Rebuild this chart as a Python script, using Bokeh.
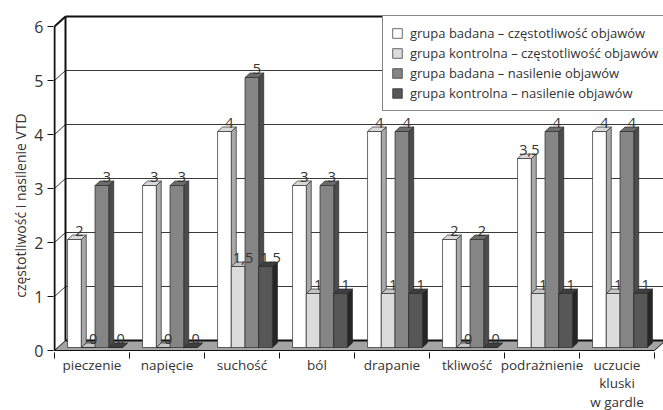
from bokeh.plotting import figure
from bokeh.models import Range1d, FixedTicker, Legend, LegendItem
from bokeh.core.properties import value
from bokeh.embed import file_html
from bokeh.resources import INLINE

# ---------------- data ----------------
categories = ["pieczenie", "napięcie", "suchość", "ból", "drapanie",
              "tkliwość", "podrażnienie", "uczucie\nkluski\nw gardle"]
series_names = ["grupa badana – częstotliwość objawów",
                "grupa kontrolna – częstotliwość objawów",
                "grupa badana – nasilenie objawów",
                "grupa kontrolna – nasilenie objawów"]
badana_czestotliwosc = [2, 3, 4, 3, 4, 2, 3.5, 4]
kontrolna_czestotliwosc = [0, 0, 1.5, 1, 1, 0, 1, 1]
badana_nasilenie = [3, 3, 5, 3, 4, 2, 4, 4]
kontrolna_nasilenie = [0, 0, 1.5, 1, 1, 0, 1, 1]
y_ticks = [0, 1, 2, 3, 4, 5, 6]
y_label = "częstotliwość i nasilenie VTD"

series_values = [badana_czestotliwosc, kontrolna_czestotliwosc,
                 badana_nasilenie, kontrolna_nasilenie]

# ---------------- style ----------------
FONT = "Open Sans"
TXT = "#333333"
front_cols = ["#ffffff", "#dcdcdc", "#858585", "#575757"]
side_cols = ["#a9a9a9", "#a0a0a0", "#4c4c4c", "#262626"]
top_cols = ["#d9d9d9", "#c4c4c4", "#6c6c6c", "#3e3e3e"]
EDGE = "#2a2a2a"

W, H = 663, 410
LEFT = 53          # frame starts 1px left of the value axis
AXIS_X = 54        # px of the front value axis
PXX = 75.0         # px per category
PXY = 54.0         # px per unit value
ZERO_Y = 350       # figure px of value 0 (from top)
LABEL_CY = 169     # px centre of the y-axis title

# depth offsets (px -> data units)
wdx, wdy = 11 / PXX, 10 / PXY     # wall depth
fdx, fdy = 3 / PXX, 3 / PXY       # bar front face shift
bdx, bdy = 5 / PXX, 4.5 / PXY     # bar depth
bw = 0.183
goff = (1 - len(series_values) * bw) / 2

n = len(categories)
x_start = -(AXIS_X - LEFT) / PXX
x_end = x_start + (W - LEFT) / PXX
y_end = ZERO_Y / PXY
y_start = -(H - ZERO_Y) / PXY

p = figure(width=W, height=H, x_range=Range1d(x_start, x_end), y_range=Range1d(y_start, y_end),
           output_backend="svg", toolbar_location=None, x_axis_location=None,
           min_border_left=LEFT, min_border_right=0, min_border_top=0, min_border_bottom=0)
p.grid.visible = False
p.outline_line_color = None
p.background_fill_color = "white"
p.border_fill_color = "white"

ymax = y_ticks[-1]

# floor
p.patch([0, n, n + wdx, wdx], [0, 0, wdy, wdy], fill_color="#a4a4a4",
        line_color="#111111", line_width=1)
p.segment(x0=[wdx], y0=[wdy], x1=[n + wdx], y1=[wdy], line_color="#111111", line_width=2)

# back wall grid lines and left wall slants
grid_levels = y_ticks[1:-1]
p.segment(x0=[wdx] * len(grid_levels), y0=[g + wdy for g in grid_levels],
          x1=[n + wdx] * len(grid_levels), y1=[g + wdy for g in grid_levels],
          line_color="#3a3a3a", line_width=1)
p.segment(x0=[0] * len(grid_levels), y0=grid_levels,
          x1=[wdx] * len(grid_levels), y1=[g + wdy for g in grid_levels],
          line_color="#3a3a3a", line_width=1)
# top edge, top-left slant, back left edge, front value-axis line
p.segment(x0=[wdx, 0, wdx, 0], y0=[ymax + wdy, ymax, wdy, y_ticks[0]],
          x1=[n + wdx, wdx, wdx, 0], y1=[ymax + wdy, ymax + wdy, ymax + wdy, ymax],
          line_color="#111111", line_width=2)

# category ticks
bounds = list(range(n + 1))
p.segment(x0=bounds, y0=[-2 / PXY] * len(bounds), x1=bounds, y1=[-8 / PXY] * len(bounds),
          line_color="#111111", line_width=1)


def fmt(v):
    return f"{v:g}".replace(".", ",")


legend_items = []
label_specs = []
for k, vals in enumerate(series_values):
    x0 = [i + goff + k * bw + fdx for i in range(n)]
    x1 = [a + bw for a in x0]
    yt = [v + fdy for v in vals]
    side_xs = [[a, a + bdx, a + bdx, a] for a in x1]
    side_ys = [[fdy, fdy + bdy, t + bdy, t] for t in yt]
    top_xs = [[a, b, b + bdx, a + bdx] for a, b in zip(x0, x1)]
    top_ys = [[t, t, t + bdy, t + bdy] for t in yt]
    p.patches(side_xs, side_ys, fill_color=side_cols[k], line_color=EDGE, line_width=0.7)
    p.patches(top_xs, top_ys, fill_color=top_cols[k], line_color=EDGE, line_width=0.7)
    r = p.quad(left=x0, right=x1, bottom=fdy, top=yt, fill_color=front_cols[k],
               line_color=EDGE, line_width=0.7)
    legend_items.append(LegendItem(label=series_names[k], renderers=[r]))
    label_specs.append(([(a + b) / 2 + bdx for a, b in zip(x0, x1)],
                        [t + bdy for t in yt], [fmt(v) for v in vals]))

# value labels on top of all bars
for lx, ly, lt in label_specs:
    p.text(x=lx, y=ly, text=lt, text_align="center", text_baseline="bottom",
           y_offset=1, text_font=value(FONT), text_font_size="14.5px", text_color=TXT)

# category labels
p.text(x=[i + 0.5 for i in range(n)], y=[0] * n, text=categories, y_offset=5,
       text_align="center", text_baseline="top", text_font=value(FONT),
       text_font_size="13.5px", text_color=TXT, text_line_height=1.04)

# y axis (line drawn as glyph above; bounds chosen so the title centre sits at LABEL_CY)
label_center = (ZERO_Y - LABEL_CY) / PXY
ax = p.yaxis[0]
ax.ticker = FixedTicker(ticks=y_ticks)
ax.bounds = (y_ticks[0], 2 * label_center - y_ticks[0])
ax.axis_line_color = None
ax.major_tick_line_color = "#111111"
ax.major_tick_out = 6
ax.major_tick_in = 0
ax.minor_tick_out = 0
ax.minor_tick_in = 0
ax.major_label_standoff = 4
ax.major_label_text_font = FONT
ax.major_label_text_font_size = "16px"
ax.major_label_text_color = TXT
ax.axis_label = y_label
ax.axis_label_standoff = 1
ax.axis_label_text_font = FONT
ax.axis_label_text_font_size = "14px"
ax.axis_label_text_font_style = "normal"
ax.axis_label_text_color = TXT

legend = Legend(items=legend_items, location=(328 + AXIS_X - LEFT, 299), orientation="vertical",
                label_text_font=FONT, label_text_font_size="13px", label_text_color=TXT,
                glyph_height=12, glyph_width=12, label_height=12, spacing=2,
                padding=8, margin=0, label_standoff=7,
                border_line_color="#111111", border_line_width=1,
                background_fill_color="white", background_fill_alpha=1.0)
p.add_layout(legend)

open("out.html", "w").write(file_html(p, INLINE))
